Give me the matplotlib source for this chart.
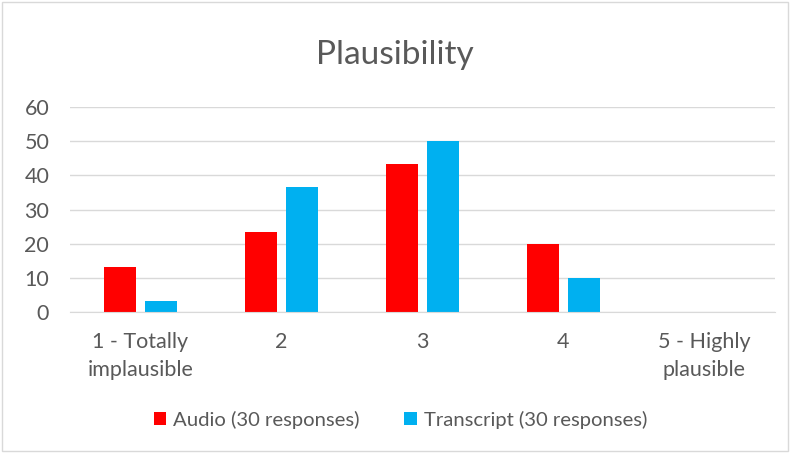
import matplotlib.pyplot as plt
import numpy as np

categories = ['1 - Totally\nimplausible', '2', '3', '4', '5 - Highly\nplausible']
audio = [13.33, 23.33, 43.33, 20.0, 0.0]
transcript = [3.33, 36.67, 50.0, 10.0, 0.0]
yticks = [0, 10, 20, 30, 40, 50, 60]

plt.rcParams['font.family'] = ['Lato', 'DejaVu Sans']

fig = plt.figure(figsize=(7.9, 4.53), dpi=100)
ax = fig.add_axes([0.0886, 0.311, 0.892, 0.4525])

x = np.arange(len(categories))
w = 0.227
ax.bar(x - 0.145, audio, w, color='#FF0000', label='Audio (30 responses)')
ax.bar(x + 0.145, transcript, w, color='#00B0F0', label='Transcript (30 responses)')

ax.set_xlim(-0.5, 4.5)
ax.set_ylim(0, 60)
ax.set_yticks(yticks)
ax.set_xticks(x)
ax.set_xticklabels(categories, fontsize=15.5, color='#595959', linespacing=1.5)
ax.tick_params(axis='y', labelsize=15.5, labelcolor='#595959', length=0, pad=15)
ax.tick_params(axis='x', length=0, pad=14)
ax.grid(axis='y', color='#D9D9D9', linewidth=1)
ax.set_axisbelow(True)
for s in ['top', 'right', 'left']:
    ax.spines[s].set_visible(False)
ax.spines['bottom'].set_color('#D9D9D9')

fig.text(0.5, 0.878, 'Plausibility', ha='center', va='center', fontsize=24, color='#595959')

fig.legend(loc='center', bbox_to_anchor=(0.507, 0.073), ncol=2, frameon=False,
           fontsize=14.6, labelcolor='#595959', handlelength=0.6, handleheight=0.6,
           columnspacing=2.2, handletextpad=0.35)

# thin border around the chart area
fig.patches.append(plt.Rectangle((0.003, 0.005), 0.994, 0.99, transform=fig.transFigure,
                                 fill=False, edgecolor='#D9D9D9', linewidth=1))

plt.savefig('out.png')
